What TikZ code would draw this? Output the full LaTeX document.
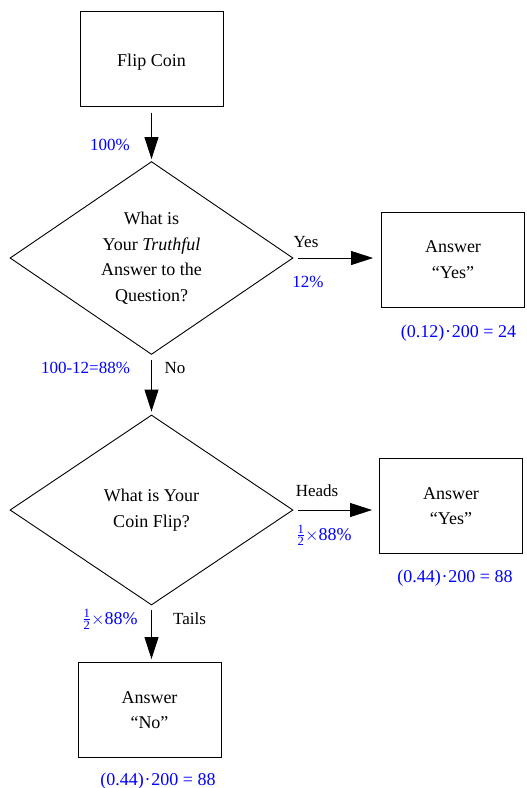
\documentclass[tikz,border=0pt]{standalone}
\usepackage{fontspec}
\setmainfont{Liberation Serif}
\usetikzlibrary{shapes.geometric,arrows.meta}
\newcommand{\sfr}[1]{\mbox{\fontsize{12.6}{12}\selectfont #1}}
\newcommand{\half}{$\frac{\sfr{1}}{\sfr{2}}{\times}$}
\newcommand{\eqn}[3]{(#1)\kern0.8pt·\kern0.8pt#2\kern4.5pt=\kern4.5pt#3}
\begin{document}
\begin{tikzpicture}[x=1pt,y=-1pt,
  box/.style={draw, line width=0.9pt, minimum width=143pt, minimum height=95pt, inner sep=0pt, align=center, font=\fontsize{18}{25.5}\selectfont},
  dia/.style={draw, diamond, line width=0.9pt, minimum width=283pt, minimum height=190pt, inner sep=0pt, align=center, font=\fontsize{18}{25.5}\selectfont},
  lower/.style={execute at begin node={\rule{0pt}{#1}}},
  arr/.style={-{Triangle[length=22pt,width=14pt]}, line width=0.9pt, shorten <=5pt, shorten >=3pt},
  lbl/.style={anchor=base, inner sep=0pt, font=\fontsize{17}{20}\selectfont},
  blu/.style={anchor=base, inner sep=0pt, text=blue, font=\fontsize{17}{20}\selectfont},
  bmath/.style={anchor=base, inner sep=0pt, text=blue, font=\fontsize{18}{20}\selectfont}]
\useasboundingbox (0,0) rectangle (527,788);
\node[box, lower=18pt] (flip) at (151.5,59) {Flip Coin};
\node[dia] (q1) at (151.5,258) {What is\\Your \textit{Truthful}\\Answer to the\\Question?};
\node[box, lower=18pt] (ay1) at (453,259.5) {Answer\\``Yes''};
\node[dia] (q2) at (151.5,510) {What is Your\\Coin Flip?};
\node[box] (ay2) at (451,506) {Answer\\``Yes''};
\node[box] (an) at (149.5,710) {Answer\\``No''};

\draw[arr, shorten <=6pt, shorten >=2pt] (flip) -- (q1);
\draw[arr, shorten >=8pt] (q1.east) -- (ay1.west |- q1.east);
\draw[arr] (q1.south) -- (q2.north);
\draw[arr, shorten >=7pt] (q2.east) -- (ay2.west |- q2.east);
\draw[arr] (q2.south) -- (an.north -| q2.south);

\node[blu] (l100) at (110,150) {100\%};
\node[lbl] (lyes) at (306,247.5) {Yes};
\node[blu] (l12) at (308,287) {12\%};
\node[bmath] (m1) at (458.5,337) {\eqn{0.12}{200}{24}};
\node[blu] (l88) at (85.5,373) {100-12=88\%};
\node[lbl] (lno) at (175,373) {No};
\node[lbl] (lheads) at (317,496) {Heads};
\node[bmath] (lh88) at (324,540) {\half 88\%};
\node[bmath] (m2) at (455,582) {\eqn{0.44}{200}{88}};
\node[bmath] (lt88) at (110,624) {\half 88\%};
\node[lbl] (ltails) at (189.5,624) {Tails};
\node[bmath] (m3) at (158,785) {\eqn{0.44}{200}{88}};
\end{tikzpicture}
\end{document}
